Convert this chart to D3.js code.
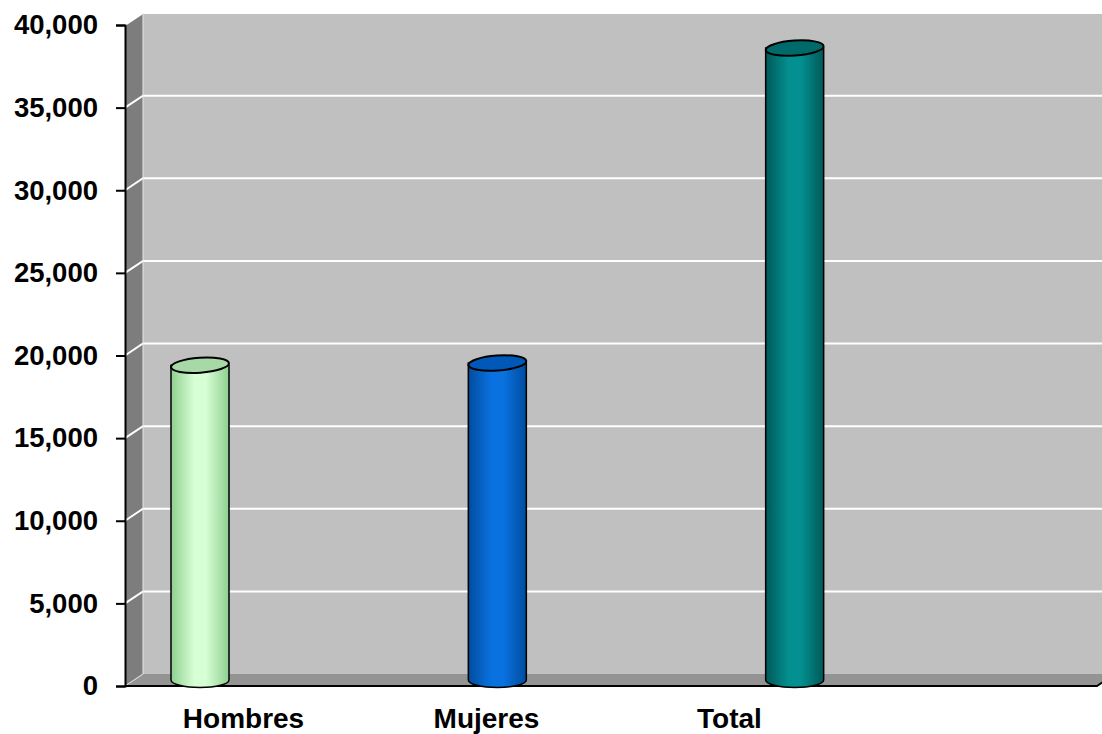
<!DOCTYPE html>
<html>
<head>
<meta charset="utf-8">
<script src="https://cdn.jsdelivr.net/npm/d3@7"></script>
<style>
  body { margin: 0; background: #fff; }
  text { font-family: Arial, "Liberation Sans", sans-serif; font-weight: bold; fill: #000; }
</style>
</head>
<body>
<div id="chart"></div>
<script>
// datos
const categories = ["Hombres", "Mujeres", "Total", ""]
const values = [19050, 19180, 38240]
const yTicks = [0, 5000, 10000, 15000, 20000, 25000, 30000, 35000, 40000]
const barColors = [
  { light: "#d6ffd6", dark: "#8fcf8f", top: "#a6d9a6" },
  { light: "#0a72e0", dark: "#004c9e", top: "#0058b8" },
  { light: "#049090", dark: "#005858", top: "#006a6a" }
]

const W = 1102, H = 734
const pLeft = 125, pRight = 1097, pBottom = 686, pTop = 25
const dx = 18, dy = -12   // profundidad 3D

const svg = d3.select("#chart").append("svg").attr("width", W).attr("height", H)

const y = d3.scaleLinear().domain([0, 40000]).range([pBottom, pTop])
const xLabel = d3.scaleBand().domain(categories).range([122, pRight - 3])
const xBar = d3.scalePoint().domain(categories).range([200, 1092])

// gradientes de los cilindros
const defs = svg.append("defs")
barColors.forEach((c, i) => {
  const g = defs.append("linearGradient").attr("id", "grad" + i)
    .attr("x1", "0%").attr("x2", "100%").attr("y1", "0%").attr("y2", "0%")
  g.append("stop").attr("offset", "0%").attr("stop-color", c.dark)
  g.append("stop").attr("offset", "40%").attr("stop-color", c.light)
  g.append("stop").attr("offset", "60%").attr("stop-color", c.light)
  g.append("stop").attr("offset", "100%").attr("stop-color", c.dark)
})

// pared del fondo
svg.append("rect")
  .attr("x", pLeft + dx).attr("y", pTop + dy)
  .attr("width", W - pLeft - dx).attr("height", pBottom - pTop)
  .attr("fill", "#c0c0c0")
svg.append("line")
  .attr("x1", pLeft + dx).attr("x2", W).attr("y1", pTop + dy).attr("y2", pTop + dy)
  .attr("stroke", "#e2e2e2").attr("stroke-width", 1.5)

// pared izquierda
svg.append("path")
  .attr("d", `M${pLeft},${pBottom} L${pLeft},${pTop} L${pLeft + dx},${pTop + dy} L${pLeft + dx},${pBottom + dy} Z`)
  .attr("fill", "#7d7d7d")

// piso
svg.append("path")
  .attr("d", `M${pLeft},${pBottom} L${pRight},${pBottom} L${pRight + dx},${pBottom + dy} L${pLeft + dx},${pBottom + dy} Z`)
  .attr("fill", "#949494")

// lineas de cuadricula
const grid = svg.append("g")
grid.selectAll("path.grid").data(yTicks.filter(d => d > 0)).join("path")
  .attr("class", "grid")
  .attr("d", d => `M${pLeft},${y(d)} L${pLeft + dx},${y(d) + dy} L${W},${y(d) + dy}`)
  .attr("fill", "none").attr("stroke", "#fff").attr("stroke-width", 2)
svg.append("line")
  .attr("x1", pLeft + dx).attr("x2", pLeft + dx).attr("y1", pTop + dy).attr("y2", pBottom + dy)
  .attr("stroke", "#e6e6e6").attr("stroke-width", 1)
svg.append("line")
  .attr("x1", pLeft).attr("x2", pLeft + dx).attr("y1", pBottom).attr("y2", pBottom + dy)
  .attr("stroke", "#e6e6e6").attr("stroke-width", 1)

// eje x frontal
svg.append("path")
  .attr("d", `M${pLeft},${pBottom} L${pRight},${pBottom} L${pRight + dx * 0.5},${pBottom + dy * 0.5}`)
  .attr("fill", "none").attr("stroke", "#000").attr("stroke-width", 2)

// cilindros
const rx = 29, ry = 7.5
const base = y(0) + dy * 0.5
const bars = svg.append("g").selectAll("g").data(values).join("g")
bars.append("path")
  .attr("d", (d, i) => {
    const cx = xBar(categories[i]), t = y(d) + dy * 0.5
    return `M${cx - rx},${t} L${cx - rx},${base} A${rx},${ry} 0 0 0 ${cx + rx},${base} L${cx + rx},${t} Z`
  })
  .attr("fill", (d, i) => `url(#grad${i})`)
  .attr("stroke", "#000").attr("stroke-width", 1.5)
bars.append("ellipse")
  .attr("cx", (d, i) => xBar(categories[i]))
  .attr("cy", d => y(d) + dy * 0.5)
  .attr("rx", rx).attr("ry", ry)
  .attr("transform", (d, i) => `rotate(-4 ${xBar(categories[i])} ${y(d) + dy * 0.5})`)
  .attr("fill", (d, i) => barColors[i].top)
  .attr("stroke", "#000").attr("stroke-width", 2)

// eje y
const yAxis = svg.append("g").attr("transform", `translate(${pLeft},0)`)
  .call(d3.axisLeft(y).tickValues(yTicks).tickFormat(d3.format(",")).tickSize(9).tickPadding(18))
yAxis.select(".domain").attr("stroke", "#000").attr("stroke-width", 2)
yAxis.selectAll(".tick line").attr("stroke", "#000").attr("stroke-width", 2)
yAxis.selectAll(".tick text")
  .attr("font-size", 27.5).attr("font-family", "Arial, 'Liberation Sans', sans-serif")
  .attr("font-weight", "bold").attr("fill", "#000")

// etiquetas de categoria
svg.append("g").selectAll("text").data(categories.filter(c => c)).join("text")
  .attr("x", d => xLabel(d) + xLabel.bandwidth() / 2)
  .attr("y", 728)
  .attr("text-anchor", "middle")
  .attr("font-size", 28)
  .text(d => d)
</script>
</body>
</html>
